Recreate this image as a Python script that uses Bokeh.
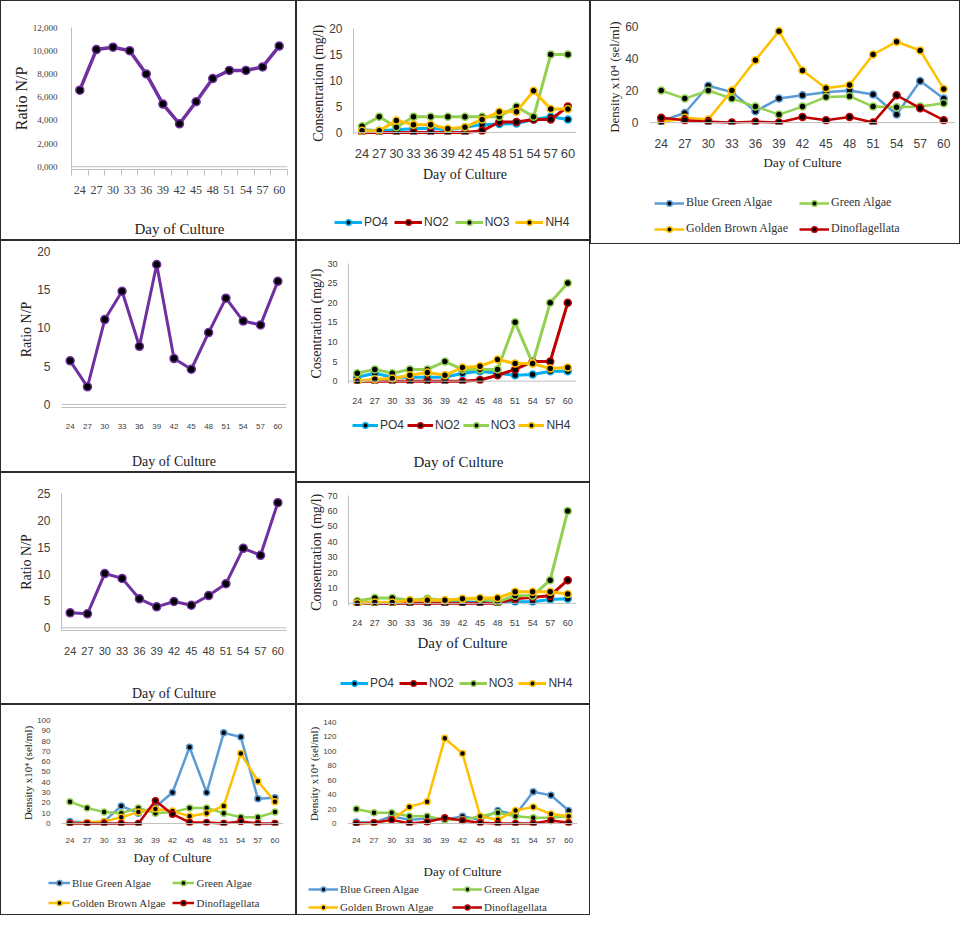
from bokeh.embed import file_html
from bokeh.layouts import column, row
from bokeh.models import FixedTicker, Legend, LegendItem, Range1d, Span, Title
from bokeh.plotting import figure
from bokeh.resources import INLINE

# ---- data ----
days = [24, 27, 30, 33, 36, 39, 42, 45, 48, 51, 54, 57, 60]

ratio_a = [6.6, 10.1, 10.3, 10.0, 8.0, 5.4, 3.7, 5.6, 7.6, 8.3, 8.3, 8.6, 10.4]
ratio_d = [5.7, 2.3, 11.1, 14.8, 7.6, 18.3, 6.0, 4.6, 9.4, 13.9, 10.9, 10.4, 16.1]
ratio_f = [2.8, 2.6, 10.1, 9.2, 5.4, 3.9, 4.9, 4.2, 6.0, 8.2, 14.8, 13.5, 23.3]

po4_b = [0.5, 0.3, 0.5, 0.7, 0.8, 0.5, 1.0, 1.5, 1.6, 1.7, 2.5, 3.0, 2.5]
no2_b = [0, 0, 0, 0, 0, 0, 0, 0.3, 2.0, 2.0, 2.5, 2.5, 5.0]
no3_b = [1.2, 3, 1, 3, 3, 3, 3, 3, 3, 5, 3, 15, 15]
nh4_b = [0.3, 0.3, 2.3, 1.5, 1.5, 0.7, 1.0, 2.5, 4.0, 4.0, 8.0, 4.5, 4.5]

po4_e = [1.0, 2.0, 1.0, 1.0, 1.0, 1.0, 2.0, 2.5, 2.0, 1.5, 1.7, 2.5, 2.5]
no2_e = [0, 0, 0, 0, 0, 0, 0, 0.3, 1.5, 3.0, 5.0, 5.0, 20.0]
no3_e = [2, 3, 2, 3, 3, 5, 3, 3, 3, 15, 4.5, 20, 25]
nh4_e = [0, 0.5, 0.7, 1.5, 2.2, 1.5, 3.5, 3.8, 5.5, 4.5, 4.5, 3.2, 3.5]

po4_g = [0, 0, 0, 0.5, 0.5, 0.5, 0.5, 0.5, 0.5, 1.0, 1.0, 2.5, 3.0]
no2_g = [0, 0, 0, 0, 0, 0, 0, 0, 0, 3, 4, 5, 15]
no3_g = [1.5, 3.5, 3.5, 2, 3, 2, 2.5, 3, 1, 5, 5, 15, 60]
nh4_g = [0, 0.5, 0.5, 2, 2, 2, 3, 3.5, 3.5, 7.5, 7.5, 7.5, 6]

bga_c = [1, 6, 23, 19, 7, 15, 17, 19, 20, 17.5, 5, 26, 15]
ga_c = [20, 15, 20, 15, 10, 5, 10, 16, 16.5, 10, 9.5, 10, 12]
gba_c = [0, 3, 2, 20, 39, 57, 32.5, 21.5, 23.5, 42.5, 50.5, 45, 21]
dino_c = [3, 1.5, 0.5, 0, 0.5, 0, 3.5, 1.5, 3.5, 0, 17, 9, 1.5]

bga_h = [2, 1, 2, 17, 10, 16, 30, 74, 30, 88, 84, 24, 25]
ga_h = [21, 15, 11, 10, 15, 10, 11, 15, 15, 10, 6, 6, 11]
gba_h = [0, 1, 2, 6, 11, 14, 12, 7, 10, 17, 68, 41, 21]
dino_h = [0, 0, 0, 0, 0, 22, 9, 1, 1, 0, 2, 0, 0]

bga_i = [2, 1, 10, 5, 7, 5, 10, 5, 18, 12, 44, 39, 18]
ga_i = [20, 15, 15, 10, 10, 5, 5, 10, 15, 10, 8, 8, 10]
gba_i = [0, 1, 5, 23, 30, 118, 97, 10, 5, 18, 23, 13, 10]
dino_i = [0, 1, 5, 0, 2, 8, 4, 1, 0, 0, 0, 4, 1]

nutrient_names = ["PO4", "NO2", "NO3", "NH4"]
nutrient_colors = ["#00B0F0", "#C00000", "#92D050", "#FFC000"]
algae_names = ["Blue Green Algae", "Green Algae", "Golden Brown Algae", "Dinoflagellata"]
algae_colors = ["#5B9BD5", "#92D050", "#FFC000", "#C00000"]

SERIF = "Liberation Serif"
SANS = "Liberation Sans"
GRAY = "#BFBFBF"
FRAME = "#2b2b2b"
M = (1, 1, 1, 1)
WHITE = {"background-color": "white"}


def no_align(p):
    # keep the legend strips from snapping to the chart frame above them
    if hasattr(p, "frame_align"):
        p.frame_align = False


def make_fig(w, h, ymax, ystep, borders, ylabel, ylabel_size, tick_size,
             xtick_size, yaxis_line=True, tick_font=SANS, xtick_font=SANS, margin=None):
    left, right, top, bottom = borders
    p = figure(width=w, height=h, output_backend="svg", toolbar_location=None,
               x_range=Range1d(22.5, 61.5), y_range=Range1d(-ymax * 0.02, ymax),
               min_border_left=left, min_border_right=right,
               min_border_top=top, min_border_bottom=bottom, styles=WHITE)
    if margin:
        p.margin = margin
    no_align(p)
    p.xgrid.visible = False
    p.ygrid.visible = False
    p.outline_line_color = None

    p.xaxis.ticker = FixedTicker(ticks=days)
    p.xaxis.axis_line_color = None
    p.xaxis.major_tick_line_color = None
    p.xaxis.minor_tick_line_color = None
    p.xaxis.major_label_text_font = xtick_font
    p.xaxis.major_label_text_font_size = f"{xtick_size}px"
    p.xaxis.major_label_text_color = "#404040"
    p.xaxis.axis_label = "Day of Culture"
    p.xaxis.axis_label_text_font = SERIF
    p.xaxis.axis_label_text_font_style = "normal"
    p.xaxis.axis_label_text_color = "#222222"

    p.yaxis.ticker = FixedTicker(ticks=list(range(0, ymax + 1, ystep)))
    p.yaxis.axis_line_color = GRAY if yaxis_line else None
    p.yaxis.major_tick_line_color = None
    p.yaxis.minor_tick_line_color = None
    p.yaxis.major_label_text_font = tick_font
    p.yaxis.major_label_text_font_size = f"{tick_size}px"
    p.yaxis.major_label_text_color = "#404040"
    p.yaxis.axis_label = ylabel
    p.yaxis.axis_label_standoff = 0
    p.yaxis.axis_label_text_font = SERIF
    p.yaxis.axis_label_text_font_size = f"{ylabel_size}px"
    p.yaxis.axis_label_text_font_style = "normal"
    p.yaxis.axis_label_text_color = "#222222"

    p.add_layout(Span(location=0, dimension="width", line_color=GRAY, line_width=1))
    return p


def add_series(p, ys, color, lw, size):
    p.line(days, ys, line_color=color, line_width=lw)
    p.scatter(days, ys, size=size, fill_color="black", line_color=color, line_width=1.5)


def legend_fig(w, h, names, colors, lw, font, size, loc, nrows=1, ncols=4,
               glyph_width=28, spacing=6, label_height=14, label_width=20,
               left=0, bottom=0):
    # separate strip under the chart that only carries the legend
    lf = figure(width=w, height=h, output_backend="svg", toolbar_location=None,
                x_range=Range1d(0, 1), y_range=Range1d(0, 1),
                x_axis_location=None, y_axis_location=None,
                min_border_left=left, min_border_right=0, min_border_top=0,
                min_border_bottom=bottom, styles=WHITE)
    no_align(lf)
    lf.grid.visible = False
    lf.outline_line_color = None
    items = []
    for name, col in zip(names, colors):
        # glyphs kept outside the visible range: they only feed the legend icons
        r1 = lf.line([-5, -4], [-5, -4], line_color=col, line_width=lw)
        r2 = lf.scatter([-5], [-5], fill_color="black", line_color=col, line_width=1.5)
        items.append(LegendItem(label=name, renderers=[r1, r2]))
    leg = Legend(items=items, orientation="horizontal", location=loc,
                 nrows=nrows, ncols=ncols,
                 label_text_font=font, label_text_font_size=f"{size}px",
                 label_text_color="#333333", glyph_width=glyph_width,
                 glyph_height=label_height, label_height=label_height,
                 label_width=label_width,
                 label_standoff=2, spacing=spacing, margin=0, padding=0,
                 border_line_color=None, background_fill_alpha=0)
    lf.add_layout(leg)
    return lf


# ---- panel A: ratio N/P ----
pa = make_fig(294, 238, 12, 2, (70, 8, 26, 67), "Ratio N/P", 16, 9, 12,
              tick_font=SERIF, xtick_font=SERIF, margin=M)
pa.yaxis.major_label_overrides = {v: f"{v},000" for v in range(0, 13, 2)}
pa.yaxis.major_label_standoff = 8
pa.xaxis.ticker = FixedTicker(ticks=days, minor_ticks=[22.5 + 3 * k for k in range(14)])
pa.xaxis.axis_line_color = GRAY
pa.xaxis.minor_tick_line_color = GRAY
pa.xaxis.minor_tick_out = 6
pa.xaxis.minor_tick_in = 0
pa.xaxis.axis_label_text_font_size = "15px"
pa.xaxis.axis_label_standoff = 24
pa.xaxis.major_label_standoff = 10
add_series(pa, ratio_a, "#7030A0", 3.5, 8)

# ---- panel B: nutrients ----
pb = make_fig(292, 205, 20, 5, (56, 13, 27, 72), "Consentration  (mg/l)", 14, 12, 13)
pb.xaxis.axis_label_text_font_size = "14px"
pb.xaxis.axis_label_standoff = 6
pb.xaxis.major_label_standoff = 8
for ys, col in zip([po4_b, no2_b, no3_b, nh4_b], nutrient_colors):
    add_series(pb, ys, col, 3, 7)
lb = legend_fig(292, 33, nutrient_names, nutrient_colors, 3, SANS, 12, (37, 10),
                glyph_width=28, spacing=6)
panel_b = column(pb, lb, spacing=0, margin=M)

# ---- panel C: plankton density ----
pc = make_fig(368, 190, 60, 20, (58, 4, 25, 67), "Density  x10\u2074 (sel/ml)", 13, 12, 12,
              yaxis_line=False)
pc.xaxis.axis_label_text_font_size = "13px"
pc.xaxis.axis_label_standoff = 4
pc.xaxis.major_label_standoff = 8
for ys, col in zip([bga_c, ga_c, gba_c, dino_c], algae_colors):
    add_series(pc, ys, col, 2.5, 7)
lc = legend_fig(368, 52, algae_names, algae_colors, 2.5, SERIF, 12, (63, 7),
                nrows=2, ncols=2, glyph_width=30, spacing=11)
panel_c = column(pc, lc, spacing=0, margin=M)

# ---- panel D: ratio N/P ----
pd_ = make_fig(294, 230, 20, 5, (60, 9, 10, 62), "Ratio N/P", 14, 12, 8,
               yaxis_line=False, margin=M)
pd_.xaxis.axis_line_color = GRAY
pd_.xaxis.axis_label_text_font_size = "14px"
pd_.xaxis.axis_label_standoff = 22
pd_.xaxis.major_label_standoff = 10
add_series(pd_, ratio_d, "#7030A0", 3, 8)

# ---- panel E: nutrients (legend between ticks and axis title) ----
pe = make_fig(292, 168, 30, 5, (51, 13, 22, 26), "Cosentration (mg/l)", 14, 9, 9)
pe.xaxis.axis_label = None
pe.xaxis.major_label_standoff = 8
for ys, col in zip([po4_e, no2_e, no3_e, nh4_e], nutrient_colors):
    add_series(pe, ys, col, 3, 7)
le = legend_fig(292, 72, nutrient_names, nutrient_colors, 3, SANS, 12, (25, 19),
                glyph_width=26, spacing=3, left=30, bottom=30)
le.add_layout(Title(text="Day of Culture", align="center", text_font=SERIF,
                    text_font_size="15px", text_font_style="normal",
                    text_color="#222222", standoff=0, offset=0), "below")
panel_e = column(pe, le, spacing=0, margin=M)

# ---- panel F: ratio N/P ----
pf = make_fig(294, 230, 25, 5, (60, 9, 20, 66), "Ratio N/P", 14, 12, 11, margin=M)
pf.xaxis.axis_line_color = GRAY
pf.xaxis.axis_label_text_font_size = "14px"
pf.xaxis.axis_label_standoff = 28
pf.xaxis.major_label_standoff = 10
add_series(pf, ratio_f, "#7030A0", 3, 8)

# ---- panel G: nutrients ----
pg = make_fig(292, 172, 70, 10, (51, 13, 12, 50), "Consentration  (mg/l)", 14, 9, 9)
pg.xaxis.axis_label_text_font_size = "15px"
pg.xaxis.axis_label_standoff = 6
pg.xaxis.major_label_standoff = 8
for ys, col in zip([po4_g, no2_g, no3_g, nh4_g], nutrient_colors):
    add_series(pg, ys, col, 3, 7)
lg = legend_fig(292, 48, nutrient_names, nutrient_colors, 3, SANS, 12, (43, 13),
                glyph_width=28, spacing=5)
panel_g = column(pg, lg, spacing=0, margin=M)

# ---- panel H: plankton density ----
ph = make_fig(294, 162, 100, 10, (60, 12, 15, 39), "Density x10\u2074 (sel/ml)", 11, 8, 8,
              yaxis_line=False)
ph.xaxis.axis_label_text_font_size = "13px"
ph.xaxis.axis_label_standoff = 4
ph.xaxis.major_label_standoff = 6
for ys, col in zip([bga_h, ga_h, gba_h, dino_h], algae_colors):
    add_series(ph, ys, col, 2.5, 6)
lh = legend_fig(294, 47, algae_names, algae_colors, 2.5, SERIF, 11, (47, 5),
                nrows=2, ncols=2, glyph_width=22, spacing=7, label_height=13)
panel_h = column(ph, lh, spacing=0, margin=M)

# ---- panel I: plankton density ----
pi = make_fig(292, 176, 140, 20, (50, 12, 17, 51), "Density x10\u2074 (sel/ml)", 11, 8, 8,
              yaxis_line=False)
pi.xaxis.axis_label_text_font_size = "13px"
pi.xaxis.axis_label_standoff = 18
pi.xaxis.major_label_standoff = 6
for ys, col in zip([bga_i, ga_i, gba_i, dino_i], algae_colors):
    add_series(pi, ys, col, 2.5, 6)
li = legend_fig(292, 33, algae_names, algae_colors, 2.5, SERIF, 11, (11, 1),
                nrows=2, ncols=2, glyph_width=30, spacing=6, label_height=12,
                label_width=106)
panel_i = column(pi, li, spacing=0, margin=M)

dark = {"background-color": FRAME}
col1 = column(pa, pd_, pf, panel_h, spacing=0, styles=dark)
col2 = column(panel_b, panel_e, panel_g, panel_i, spacing=0, styles=dark)
col3 = column(panel_c, spacing=0, styles=dark)
layout = row(col1, col2, col3, spacing=0)

open("out.html", "w").write(file_html(layout, INLINE))
